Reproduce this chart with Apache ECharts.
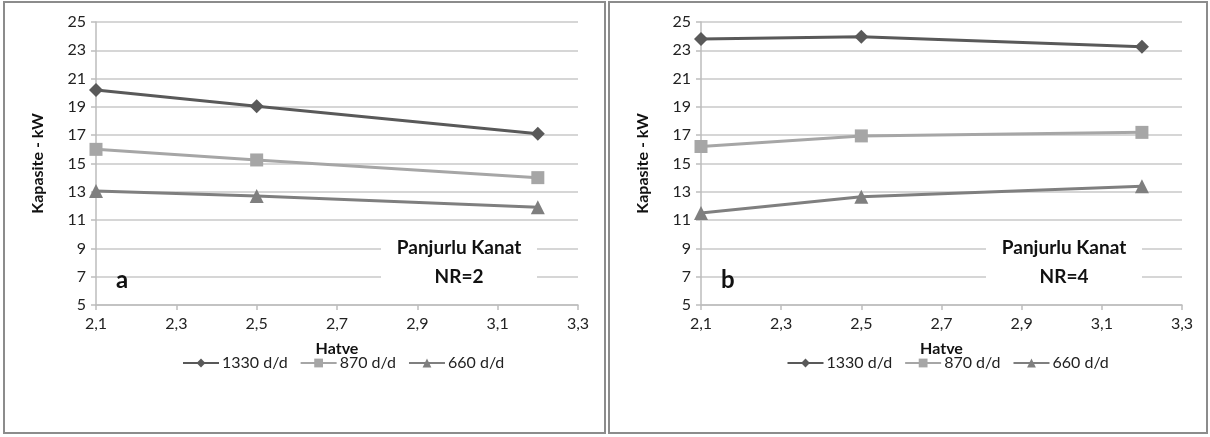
<!DOCTYPE html>
<html>
<head>
<meta charset="utf-8">
<script src="https://cdn.jsdelivr.net/npm/echarts@6/dist/echarts.min.js"></script>
<style>
html,body{margin:0;padding:0;background:#fff;}
#c{width:1210px;height:437px;}
</style>
</head>
<body>
<div id="c"></div>
<script>
const xValues = [2.1, 2.5, 3.2];
const seriesNames = ['1330 d/d', '870 d/d', '660 d/d'];
// Panel a (NR=2)
const a1330 = [20.2, 19.05, 17.1];
const a870 = [16.0, 15.25, 14.0];
const a660 = [13.05, 12.7, 11.9];
// Panel b (NR=4)
const b1330 = [23.8, 23.95, 23.25];
const b870 = [16.2, 16.95, 17.2];
const b660 = [11.5, 12.65, 13.4];
const yTicks = [5, 7, 9, 11, 13, 15, 17, 19, 21, 23, 25];
const xTicks = [2.1, 2.3, 2.5, 2.7, 2.9, 3.1, 3.3];

const FONT = 'Lato, "Liberation Sans", sans-serif';
const colors = ['#595959', '#A6A6A6', '#7F7F7F'];
const symbols = ['diamond', 'rect', 'triangle'];
const symbolSizes = [14, 13, 14];

function pairs(ys){ return xValues.map((x,i)=>[x, ys[i]]); }

const panels = [
  {left: 96, width: 482, data: [a1330, a870, a660], letter: 'a', nr: 'NR=2', cx: 459},
  {left: 701, width: 481, data: [b1330, b870, b660], letter: 'b', nr: 'NR=4', cx: 1064}
];

const grids = [], xAxes = [], yAxes = [], series = [], legends = [], graphics = [];

panels.forEach((p, pi) => {
  grids.push({left: p.left, width: p.width, top: 22, height: 283});
  xAxes.push({
    type: 'value', gridIndex: pi, min: xTicks[0], max: xTicks[xTicks.length-1], interval: 0.2,
    name: 'Hatve', nameLocation: 'middle', nameGap: 36,
    nameTextStyle: {fontFamily: FONT, fontSize: 16, fontWeight: 'bold', color: '#111'},
    axisLine: {show: true, onZero: false, lineStyle: {color: '#BDBDBD', width: 1.5}},
    axisTick: {show: true, length: 5, lineStyle: {color: '#BDBDBD', width: 1.5}},
    splitLine: {show: false},
    axisLabel: {fontFamily: FONT, fontSize: 16, color: '#222', margin: 11,
      formatter: v => v.toFixed(1).replace('.', ',')}
  });
  yAxes.push({
    type: 'value', gridIndex: pi, min: yTicks[0], max: yTicks[yTicks.length-1], interval: 2,
    name: 'Kapasite - kW', nameLocation: 'middle', nameGap: 50, nameRotate: 90,
    nameTextStyle: {fontFamily: FONT, fontSize: 16, fontWeight: 'bold', color: '#111'},
    axisLine: {show: true, lineStyle: {color: '#BDBDBD', width: 1.5}},
    axisTick: {show: true, length: 5, lineStyle: {color: '#BDBDBD', width: 1.5}},
    splitLine: {show: true, lineStyle: {color: '#C8C8C8', width: 1.5}},
    axisLabel: {fontFamily: FONT, fontSize: 16, color: '#222', margin: 10}
  });
  p.data.forEach((ys, si) => {
    series.push({
      name: seriesNames[si], type: 'line', xAxisIndex: pi, yAxisIndex: pi,
      data: pairs(ys), symbol: symbols[si], symbolSize: symbolSizes[si],
      lineStyle: {color: colors[si], width: 3}, itemStyle: {color: colors[si]},
      z: 3 - si, animation: false
    });
  });
  legends.push({
    data: seriesNames, left: p.left + p.width/2 - 160, top: 350, width: 360,
    itemGap: 12, itemWidth: 36, itemHeight: 11,
    textStyle: {fontFamily: FONT, fontSize: 16, color: '#222', padding: [0,0,0,-2]},
    selectedMode: false
  });
  graphics.push({type: 'text', left: p.left + 20, top: 268, z: 50,
    style: {text: p.letter, font: 'bold 24px ' + FONT, fill: '#111'}});
  graphics.push({type: 'group', left: p.cx - 78, top: 232, z: 50, children: [
    {type: 'rect', z: 50, shape: {x: 0, y: 0, width: 156, height: 60}, style: {fill: '#fff'}},
    {type: 'text', z: 51, style: {text: 'Panjurlu Kanat\n' + p.nr, x: 78, y: 1, textAlign: 'center',
      font: 'bold 19px ' + FONT, fill: '#111', lineHeight: 29}}
  ]});
});

graphics.push({type: 'rect', z: 100, shape: {x: 4, y: 2, width: 601, height: 431},
  style: {fill: 'none', stroke: '#8C8C8C', lineWidth: 2}});
graphics.push({type: 'rect', z: 100, shape: {x: 609, y: 2, width: 598, height: 431},
  style: {fill: 'none', stroke: '#8C8C8C', lineWidth: 2}});

const chart = echarts.init(document.getElementById('c'), null, {renderer: 'canvas'});
chart.setOption({
  animation: false,
  backgroundColor: '#fff',
  grid: grids, xAxis: xAxes, yAxis: yAxes, series: series,
  legend: legends,
  graphic: graphics
});
</script>
</body>
</html>
